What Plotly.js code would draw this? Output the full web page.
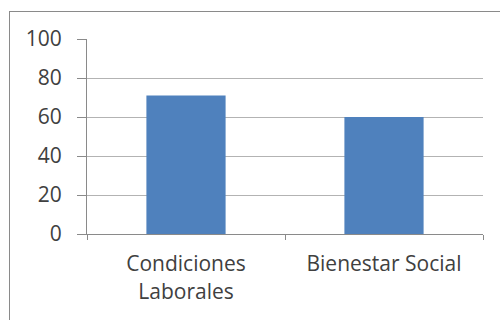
<!DOCTYPE html>
<html>
<head>
<meta charset="utf-8">
<script src="https://cdn.plot.ly/plotly-3.0.1.min.js"></script>
<style>
  html, body { margin: 0; padding: 0; background: #fff; }
  #wrap { position: relative; width: 500px; height: 320px; overflow: hidden; }
  #frame { position: absolute; left: 9px; top: 11px; width: 520px; height: 340px;
           border: 1.5px solid #8a8a8a; box-sizing: border-box; }
  #chart { position: absolute; left: 0; top: 0; width: 500px; height: 320px; }
</style>
</head>
<body>
<div id="wrap">
  <div id="frame"></div>
  <div id="chart"></div>
</div>
<script>
// Survey dimensions and their scores
const categories = ["Condiciones<br>Laborales", "Bienestar Social"];
const scores = [71, 60];
const yTicks = [0, 20, 40, 60, 80, 100];

const trace = {
  type: "bar",
  x: categories,
  y: scores,
  marker: { color: "#4f81bd", line: { width: 0 } },
  hoverinfo: "x+y"
};

const layout = {
  width: 500,
  height: 320,
  margin: { l: 87, r: 17, t: 39, b: 86 },
  paper_bgcolor: "rgba(0,0,0,0)",
  plot_bgcolor: "rgba(0,0,0,0)",
  bargap: 0.6,
  showlegend: false,
  font: { family: "'Open Sans', sans-serif", size: 21, color: "#404040" },
  xaxis: {
    type: "category",
    showgrid: false,
    showline: true,
    linecolor: "#8a8a8a",
    linewidth: 1,
    ticks: "outside",
    tickson: "boundaries",
    ticklen: 5,
    tickcolor: "#8a8a8a",
    ticklabelstandoff: 11,
    zeroline: false,
    fixedrange: true
  },
  yaxis: {
    range: [0, 100],
    tickvals: yTicks,
    ticktext: yTicks.map(String),
    showgrid: true,
    gridcolor: "#b3b3b3",
    gridwidth: 1,
    showline: true,
    linecolor: "#8a8a8a",
    linewidth: 1,
    ticks: "outside",
    ticklen: 9,
    tickcolor: "#8a8a8a",
    ticklabelstandoff: 11,
    zeroline: false,
    fixedrange: true
  }
};

Plotly.newPlot("chart", [trace], layout, { displayModeBar: false, staticPlot: true });
</script>
</body>
</html>
